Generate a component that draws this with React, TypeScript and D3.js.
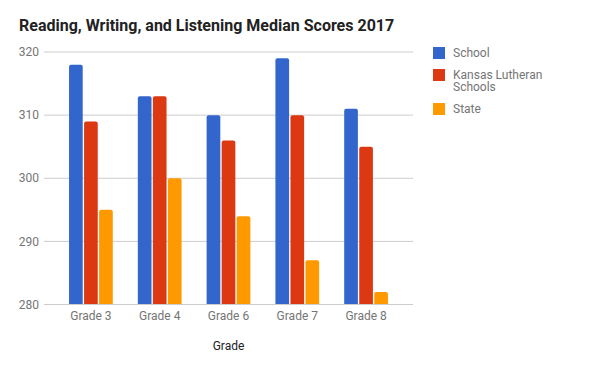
import { useMemo } from "react";
import * as d3 from "d3";

const grades = ["Grade 3", "Grade 4", "Grade 6", "Grade 7", "Grade 8"];
const seriesNames = ["School", "Kansas Lutheran Schools", "State"];
const schoolScores = [318, 313, 310, 319, 311];
const kansasScores = [309, 313, 306, 310, 305];
const stateScores = [295, 300, 294, 287, 282];
const yTicks = [280, 290, 300, 310, 320];
const colors = ["#3366cc", "#dc3912", "#ff9900"];

const width = 600;
const height = 371;
const plot = { left: 44, right: 413, top: 52, bottom: 304.5 };
const font = "Roboto, Arial, sans-serif";

export default function App() {
  const allSeries = [schoolScores, kansasScores, stateScores];

  const x = useMemo(
    () =>
      d3
        .scaleBand<string>()
        .domain(grades)
        .range([plot.left, plot.right])
        .paddingInner(0.364)
        .paddingOuter(0.364),
    []
  );
  const xSub = useMemo(
    () =>
      d3
        .scaleBand<string>()
        .domain(seriesNames)
        .range([0, x.bandwidth()])
        .paddingInner(0.09),
    [x]
  );
  const y = d3.scaleLinear().domain([280, 320]).range([plot.bottom, plot.top]);

  // bar with rounded top corners only
  const barPath = (x0: number, y0: number, w: number, h: number, r = 2) => {
    const p = d3.path();
    p.moveTo(x0, y0 + h);
    p.lineTo(x0, y0 + r);
    p.quadraticCurveTo(x0, y0, x0 + r, y0);
    p.lineTo(x0 + w - r, y0);
    p.quadraticCurveTo(x0 + w, y0, x0 + w, y0 + r);
    p.lineTo(x0 + w, y0 + h);
    p.closePath();
    return p.toString();
  };

  const legendRows = [
    { name: "School", lines: ["School"], y: 47 },
    { name: "Kansas Lutheran Schools", lines: ["Kansas Lutheran", "Schools"], y: 69 },
    { name: "State", lines: ["State"], y: 103 },
  ];

  return (
    <div style={{ position: "absolute", left: 0, top: 0 }}>
      <svg width={width} height={height} style={{ display: "block", background: "#fff" }}>
        <text x={19} y={30.5} fontFamily={font} fontWeight="bold" fontSize={16} fill="#222">
          Reading, Writing, and Listening Median Scores 2017
        </text>

        {/* gridlines */}
        {yTicks.map((t) => (
          <g key={t}>
            <line x1={plot.left} x2={plot.right} y1={y(t)} y2={y(t)} stroke="#cccccc" strokeWidth={1} />
            <text
              x={39}
              y={y(t)}
              dy="0.35em"
              textAnchor="end"
              fontFamily={font}
              fontSize={12}
              fill="#757575"
            >
              {t}
            </text>
          </g>
        ))}

        {/* bars */}
        {grades.map((g, i) => (
          <g key={g}>
            {allSeries.map((s, j) => {
              const bx = (x(g) ?? 0) + (xSub(seriesNames[j]) ?? 0);
              const top = y(s[i]);
              return (
                <path
                  key={j}
                  d={barPath(bx, top, xSub.bandwidth(), plot.bottom - top)}
                  fill={colors[j]}
                />
              );
            })}
            <text
              x={(x(g) ?? 0) + x.bandwidth() / 2}
              y={319.5}
              textAnchor="middle"
              fontFamily={font}
              fontSize={12}
              fill="#757575"
            >
              {g}
            </text>
          </g>
        ))}

        <line x1={plot.left} x2={plot.right} y1={y(280)} y2={y(280)} stroke="#cccccc" />

        <text
          x={(plot.left + plot.right) / 2}
          y={350}
          textAnchor="middle"
          fontFamily={font}
          fontSize={12}
          fill="#222"
        >
          Grade
        </text>

        {/* legend */}
        {legendRows.map((r, i) => (
          <g key={r.name}>
            <rect x={433} y={r.y} width={12} height={12} fill={colors[i]} />
            {r.lines.map((l, k) => (
              <text
                key={k}
                x={453}
                y={r.y + 10 + k * 12}
                fontFamily={font}
                fontSize={12}
                fill="#757575"
              >
                {l}
              </text>
            ))}
          </g>
        ))}
      </svg>
    </div>
  );
}
